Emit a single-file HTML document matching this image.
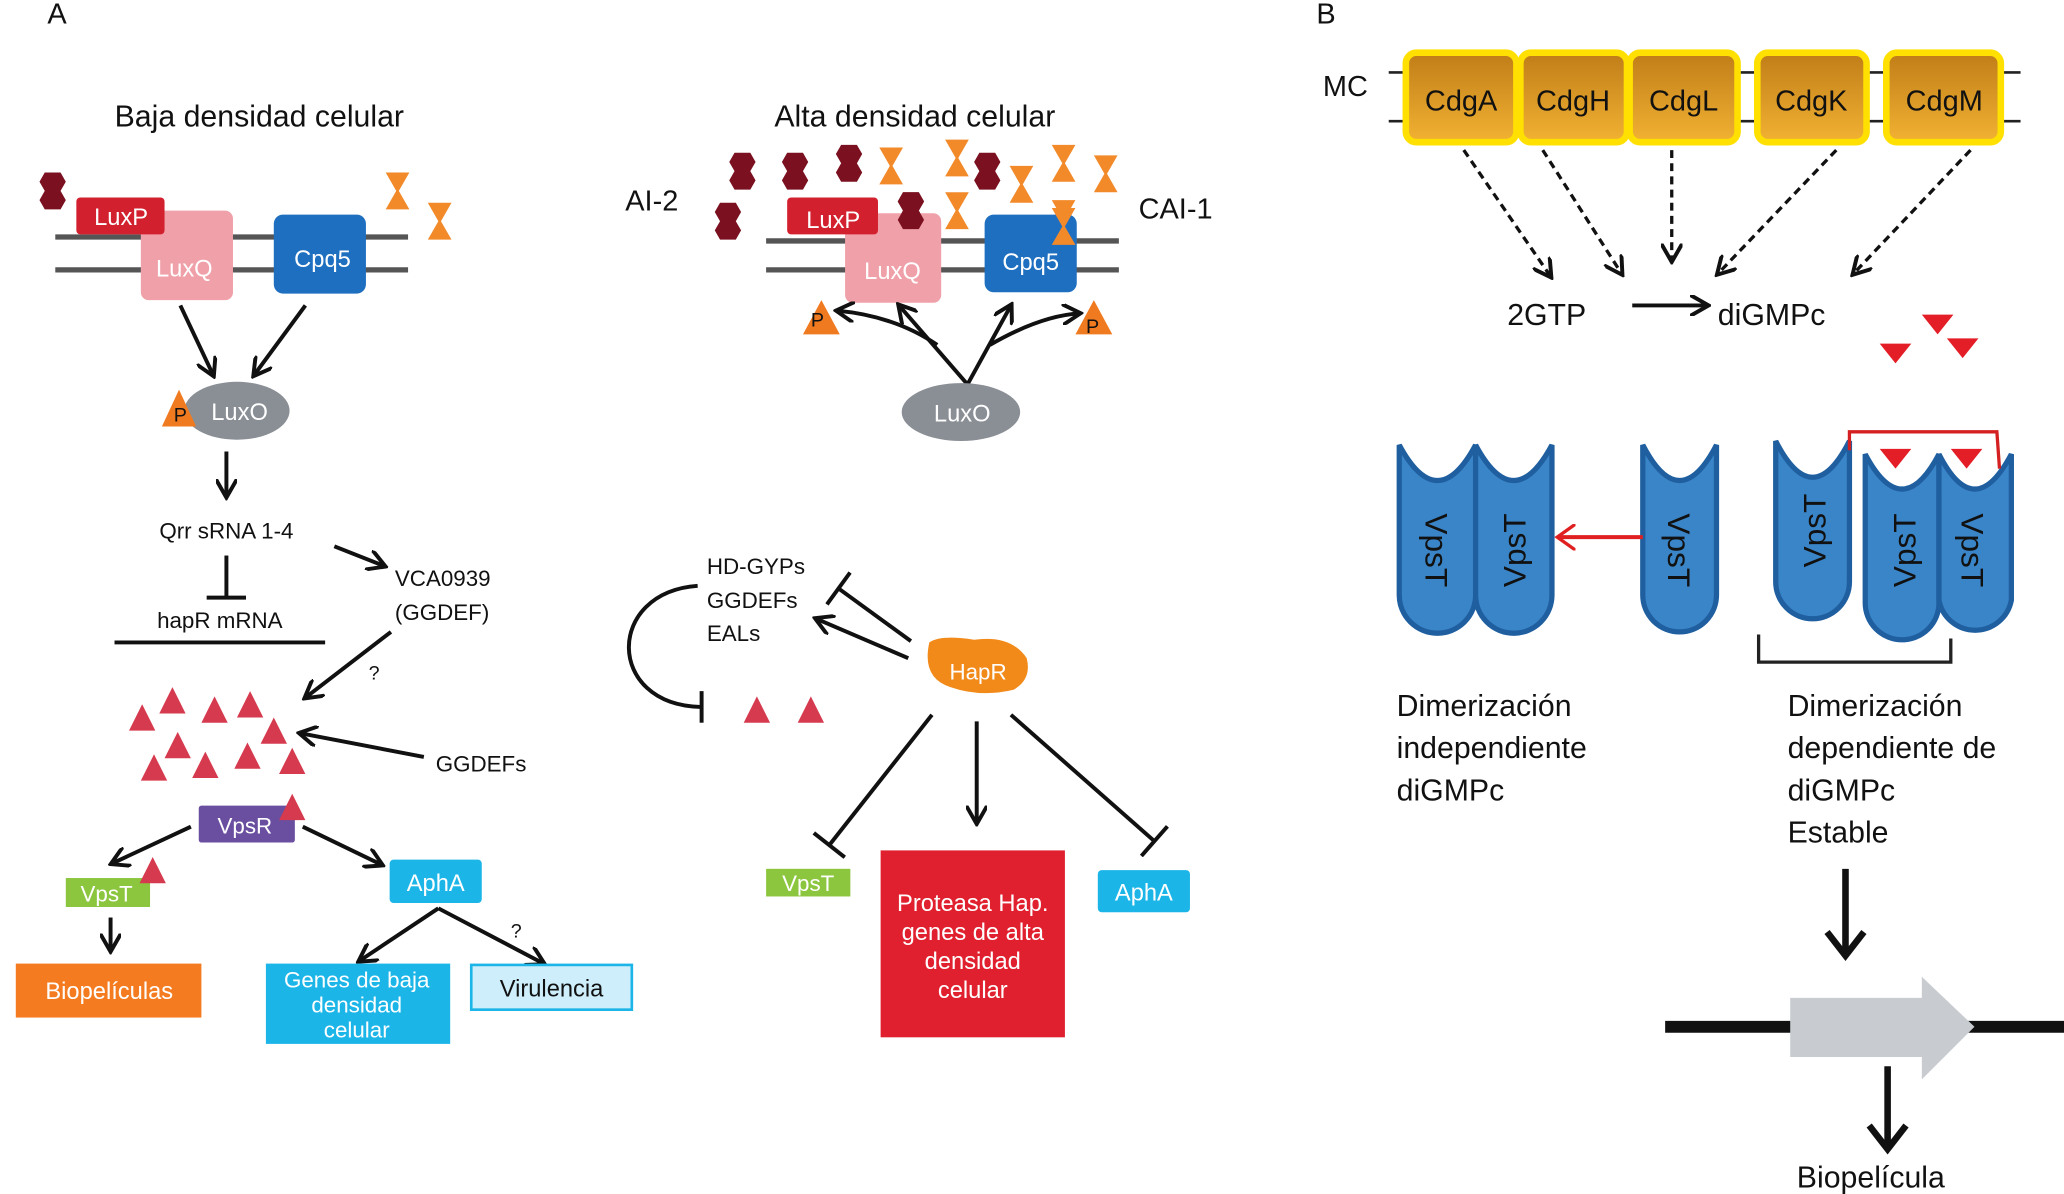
<!DOCTYPE html>
<html><head><meta charset="utf-8"><style>html,body{margin:0;padding:0;background:#fff}svg{display:block}text{font-family:"Liberation Sans",sans-serif}</style></head><body>
<svg width="2064" height="1194" viewBox="0 0 1568 907" xmlns="http://www.w3.org/2000/svg">
<defs>
<marker id="ah" markerWidth="10" markerHeight="10" refX="8" refY="5" orient="auto" markerUnits="userSpaceOnUse"><path d="M0,0 L9,5 L0,10" fill="none" stroke="#111" stroke-width="2.5"/></marker>
<marker id="ahb" markerWidth="16" markerHeight="16" refX="13" refY="8" orient="auto" markerUnits="userSpaceOnUse"><path d="M0,0 L14,8 L0,16" fill="none" stroke="#111" stroke-width="3"/></marker>
<marker id="ahr" markerWidth="16" markerHeight="20" refX="13" refY="10" orient="auto" markerUnits="userSpaceOnUse"><path d="M0,0 L14,10 L0,20" fill="none" stroke="#e02020" stroke-width="2.5"/></marker>
<marker id="bar" markerWidth="4" markerHeight="30" refX="2" refY="15" orient="auto" markerUnits="userSpaceOnUse"><path d="M2,0 L2,30" stroke="#111" stroke-width="3"/></marker>
<linearGradient id="gold" x1="0" y1="0" x2="0" y2="1"><stop offset="0" stop-color="#c07d18"/><stop offset="1" stop-color="#f2b232"/></linearGradient>
<g id="hex"><path d="M-6,-14 L6,-14 L10,-7 L6,0 L10,7 L6,14 L-6,14 L-10,7 L-6,0 L-10,-7Z" fill="#7a1020"/></g>
<g id="hg"><path d="M-9,-14 L9,-14 L1,0 L9,14 L-9,14 L-1,0Z" fill="#f28a2a"/></g>
<g id="tri"><path d="M0,-11 L10,9 L-10,9Z" fill="#d63a4e"/></g>
<g id="dtri"><path d="M-12,-7 L12,-7 L0,8Z" fill="#e41e26"/></g>
</defs>
<g fill="#111">
<text x="36" y="18" font-size="22">A</text>
<text x="1000" y="18" font-size="22">B</text>
<text x="197" y="96" font-size="23" text-anchor="middle">Baja densidad celular</text>
<text x="695" y="96" font-size="23" text-anchor="middle">Alta densidad celular</text>
<text x="475" y="160" font-size="22">AI-2</text>
<text x="865" y="166" font-size="22">CAI-1</text>
</g>
<g stroke="#555" stroke-width="4"><line x1="42" y1="180" x2="310" y2="180"/><line x1="42" y1="205" x2="310" y2="205"/>
<line x1="582" y1="183" x2="850" y2="183"/><line x1="582" y1="205" x2="850" y2="205"/></g>
<use href="#hex" x="40" y="145"/>
<use href="#hg" x="302" y="145"/><use href="#hg" x="334" y="168"/>
<rect x="107" y="160" width="70" height="68" rx="6" fill="#f0a0a8"/>
<rect x="58" y="150" width="67" height="28" rx="3" fill="#d2202f"/>
<rect x="208" y="163" width="70" height="60" rx="7" fill="#1f6fc0"/>
<g fill="#fff" font-size="18" text-anchor="middle"><text x="92" y="171">LuxP</text><text x="140" y="210">LuxQ</text><text x="245" y="203">Cpq5</text></g>
<g stroke="#111" stroke-width="3" fill="none" marker-end="url(#ahb)"><line x1="137" y1="232" x2="162" y2="285"/><line x1="232" y1="232" x2="193" y2="285"/><line x1="172" y1="343" x2="172" y2="377"/></g>
<ellipse cx="180" cy="312" rx="40" ry="22" fill="#8a8f96"/>
<path d="M136,296 L149,324 L123,324Z" fill="#f07a20"/>
<text x="132" y="320" font-size="15" fill="#111">P</text>
<text x="182" y="319" font-size="18" fill="#fff" text-anchor="middle">LuxO</text>
<g font-size="17" fill="#111"><text x="172" y="409" text-anchor="middle">Qrr sRNA 1-4</text><text x="167" y="477" text-anchor="middle">hapR mRNA</text>
<text x="300" y="445">VCA0939</text><text x="300" y="471">(GGDEF)</text><text x="280" y="516" font-size="15">?</text><text x="331" y="586">GGDEFs</text><text x="388" y="712" font-size="15">?</text></g>
<line x1="172" y1="422" x2="172" y2="454" stroke="#111" stroke-width="3" marker-end="url(#bar)"/>
<line x1="87" y1="488" x2="247" y2="488" stroke="#111" stroke-width="3"/>
<g stroke="#111" stroke-width="3" fill="none" marker-end="url(#ahb)">
<line x1="254" y1="415" x2="292" y2="430"/><line x1="297" y1="480" x2="232" y2="530"/><line x1="322" y1="575" x2="228" y2="557"/>
<line x1="145" y1="628" x2="85" y2="656"/><line x1="230" y1="628" x2="290" y2="657"/><line x1="84" y1="697" x2="84" y2="722"/>
<line x1="333" y1="690" x2="273" y2="730"/><line x1="333" y1="690" x2="413" y2="732"/></g>
<use href="#tri" x="108" y="546"/><use href="#tri" x="131" y="533"/><use href="#tri" x="163" y="540"/><use href="#tri" x="190" y="536"/><use href="#tri" x="208" y="556"/>
<use href="#tri" x="135" y="567"/><use href="#tri" x="117" y="584"/><use href="#tri" x="156" y="582"/><use href="#tri" x="188" y="575"/><use href="#tri" x="222" y="579"/>
<rect x="151" y="612" width="73" height="28" rx="2" fill="#6a4ea0"/><text x="186" y="633" font-size="17" fill="#fff" text-anchor="middle">VpsR</text>
<use href="#tri" x="222" y="614"/>
<rect x="50" y="667" width="64" height="22" fill="#8cc63f"/><text x="81" y="685" font-size="17" fill="#fff" text-anchor="middle">VpsT</text>
<use href="#tri" x="116" y="662"/>
<rect x="296" y="653" width="70" height="33" rx="3" fill="#1bb5e8"/><text x="331" y="677" font-size="18" fill="#fff" text-anchor="middle">AphA</text>
<rect x="12" y="732" width="141" height="41" fill="#f47b20"/><text x="83" y="759" font-size="18" fill="#fff" text-anchor="middle">Biopelículas</text>
<rect x="202" y="732" width="140" height="61" fill="#1bb5e8"/><g font-size="17" fill="#fff" text-anchor="middle"><text x="271" y="750">Genes de baja</text><text x="271" y="769">densidad</text><text x="271" y="788">celular</text></g>
<rect x="358" y="733" width="122" height="34" fill="#cdeefa" stroke="#1bb5e8" stroke-width="2"/><text x="419" y="757" font-size="18" fill="#111" text-anchor="middle">Virulencia</text>
<use href="#hex" x="564" y="130"/><use href="#hex" x="553" y="168"/><use href="#hex" x="604" y="130"/><use href="#hex" x="645" y="124"/><use href="#hex" x="692" y="160"/><use href="#hex" x="750" y="130"/>
<use href="#hg" x="677" y="126"/><use href="#hg" x="727" y="120"/><use href="#hg" x="727" y="160"/><use href="#hg" x="776" y="140"/><use href="#hg" x="808" y="124"/><use href="#hg" x="840" y="132"/><use href="#hg" x="808" y="166"/>
<rect x="642" y="162" width="73" height="68" rx="6" fill="#f0a0a8"/>
<rect x="598" y="150" width="69" height="28" rx="3" fill="#d2202f"/>
<use href="#hex" x="692" y="160"/>
<rect x="748" y="163" width="70" height="59" rx="7" fill="#1f6fc0"/>
<use href="#hg" x="808" y="172"/>
<g fill="#fff" font-size="18" text-anchor="middle"><text x="633" y="173">LuxP</text><text x="678" y="212">LuxQ</text><text x="783" y="205">Cpq5</text></g>
<path d="M624,228 L638,254 L610,254Z" fill="#f07a20"/><path d="M831,228 L845,254 L817,254Z" fill="#f07a20"/>
<text x="616" y="248" font-size="15" fill="#111">P</text><text x="825" y="253" font-size="15" fill="#111">P</text>
<g stroke="#111" stroke-width="3" fill="none" marker-end="url(#ahb)">
<line x1="735" y1="292" x2="683" y2="232"/><line x1="735" y1="292" x2="768" y2="232"/>
<path d="M712,262 Q680,240 636,236"/><path d="M752,262 Q790,240 820,238"/>
<line x1="690" y1="500" x2="620" y2="470"/><line x1="742" y1="548" x2="742" y2="625"/></g>
<ellipse cx="730" cy="313" rx="45" ry="22" fill="#8a8f96"/><text x="731" y="320" font-size="18" fill="#fff" text-anchor="middle">LuxO</text>
<g font-size="17" fill="#111"><text x="537" y="436">HD-GYPs</text><text x="537" y="462">GGDEFs</text><text x="537" y="487">EALs</text></g>
<path d="M530,445 C460,450 460,535 532,537" fill="none" stroke="#111" stroke-width="3"/><line x1="533" y1="525" x2="533" y2="549" stroke="#111" stroke-width="3"/>
<g stroke="#111" stroke-width="3" marker-end="url(#bar)"><line x1="692" y1="487" x2="637" y2="447"/><line x1="708" y1="543" x2="630" y2="642"/><line x1="768" y1="543" x2="877" y2="639"/></g>
<path d="M706,488 Q715,482 740,486 Q768,482 780,500 Q784,516 770,524 Q745,530 722,522 Q700,515 706,488Z" fill="#f28a1a"/>
<text x="743" y="516" font-size="17" fill="#fff" text-anchor="middle">HapR</text>
<use href="#tri" x="575" y="540"/><use href="#tri" x="616" y="540"/>
<rect x="582" y="660" width="64" height="21" fill="#8cc63f"/><text x="614" y="677" font-size="17" fill="#fff" text-anchor="middle">VpsT</text>
<rect x="669" y="646" width="140" height="142" fill="#e0202e"/>
<g font-size="18" fill="#fff" text-anchor="middle"><text x="739" y="692">Proteasa Hap.</text><text x="739" y="714">genes de alta</text><text x="739" y="736">densidad</text><text x="739" y="758">celular</text></g>
<rect x="834" y="661" width="70" height="32" rx="3" fill="#1bb5e8"/><text x="869" y="684" font-size="18" fill="#fff" text-anchor="middle">AphA</text>
<text x="1005" y="73" font-size="22" fill="#111">MC</text>
<g stroke="#222" stroke-width="2"><line x1="1055" y1="55" x2="1535" y2="55"/><line x1="1055" y1="92" x2="1535" y2="92"/></g>
<g stroke="#ffe000" stroke-width="5" fill="url(#gold)">
<rect x="1068" y="40" width="84" height="68" rx="8"/><rect x="1155" y="40" width="81" height="68" rx="8"/><rect x="1238" y="40" width="82" height="68" rx="8"/><rect x="1335" y="40" width="83" height="68" rx="8"/><rect x="1433" y="40" width="87" height="68" rx="8"/></g>
<g font-size="22" fill="#111" text-anchor="middle"><text x="1110" y="84">CdgA</text><text x="1195" y="84">CdgH</text><text x="1279" y="84">CdgL</text><text x="1376" y="84">CdgK</text><text x="1477" y="84">CdgM</text></g>
<g stroke="#111" stroke-width="2.5" stroke-dasharray="6,4" fill="none" marker-end="url(#ahb)">
<line x1="1112" y1="114" x2="1178" y2="210"/><line x1="1172" y1="114" x2="1232" y2="208"/><line x1="1270" y1="114" x2="1270" y2="198"/><line x1="1395" y1="114" x2="1305" y2="208"/><line x1="1497" y1="114" x2="1408" y2="208"/></g>
<text x="1145" y="247" font-size="23" fill="#111">2GTP</text><text x="1305" y="247" font-size="23" fill="#111">diGMPc</text>
<line x1="1240" y1="232" x2="1297" y2="232" stroke="#111" stroke-width="3" marker-end="url(#ahb)"/>
<use href="#dtri" x="1440" y="268"/><use href="#dtri" x="1472" y="246"/><use href="#dtri" x="1491" y="264"/>
<g fill="#3a85c8" stroke="#1f5fa0" stroke-width="4">
<path d="M1063,338 L1063,452 A29,29 0 0 0 1121,452 L1121,338 Q1092,392 1063,338Z"/>
<path d="M1121,338 L1121,452 A29,29 0 0 0 1179,452 L1179,338 Q1150,392 1121,338Z"/>
<path d="M1248,338 L1248,452 A28,28 0 0 0 1304,452 L1304,338 Q1276,392 1248,338Z"/>
<path d="M1349,335 L1349,442 A28,28 0 0 0 1405,442 L1405,335 Q1377,390 1349,335Z"/>
<path d="M1417,345 L1417,458 A28,28 0 0 0 1473,458 L1473,345 Q1445,398 1417,345Z"/>
<path d="M1473,345 L1473,456 A28,28 0 0 0 1528,456 L1528,345 Q1500,398 1473,345Z"/></g>
<g font-size="24" fill="#111" text-anchor="middle">
<text transform="translate(1083,418) rotate(90)">VpsT</text>
<text transform="translate(1159,418) rotate(-90)">VpsT</text>
<text transform="translate(1267,418) rotate(90)">VpsT</text>
<text transform="translate(1387,403) rotate(-90)">VpsT</text>
<text transform="translate(1455,418) rotate(-90)">VpsT</text>
<text transform="translate(1490,418) rotate(90)">VpsT</text></g>
<use href="#dtri" x="1440" y="348"/><use href="#dtri" x="1494" y="348"/>
<path d="M1405,342 L1405,328 L1517,328 L1519,356" fill="none" stroke="#d42020" stroke-width="2.5"/>
<line x1="1248" y1="408" x2="1184" y2="408" stroke="#e02020" stroke-width="3" marker-end="url(#ahr)"/>
<path d="M1336,482 L1336,503 L1482,503 L1482,485" fill="none" stroke="#222" stroke-width="2.5"/>
<g font-size="23" fill="#111"><text x="1061" y="544">Dimerización</text><text x="1061" y="576">independiente</text><text x="1061" y="608">diGMPc</text>
<text x="1358" y="544">Dimerización</text><text x="1358" y="576">dependiente de</text><text x="1358" y="608">diGMPc</text><text x="1358" y="640">Estable</text>
<text x="1365" y="902">Biopelícula</text></g>
<g stroke="#111" stroke-width="5" fill="none"><line x1="1402" y1="660" x2="1402" y2="726"/><path d="M1388,708 L1402,726 L1416,708"/>
<line x1="1434" y1="810" x2="1434" y2="873"/><path d="M1420,855 L1434,873 L1448,855"/></g>
<line x1="1265" y1="780" x2="1568" y2="780" stroke="#111" stroke-width="9"/>
<path d="M1360,758 L1460,758 L1460,742 L1500,780 L1460,820 L1460,803 L1360,803Z" fill="#c8ccd0"/>
</svg>
</body></html>
